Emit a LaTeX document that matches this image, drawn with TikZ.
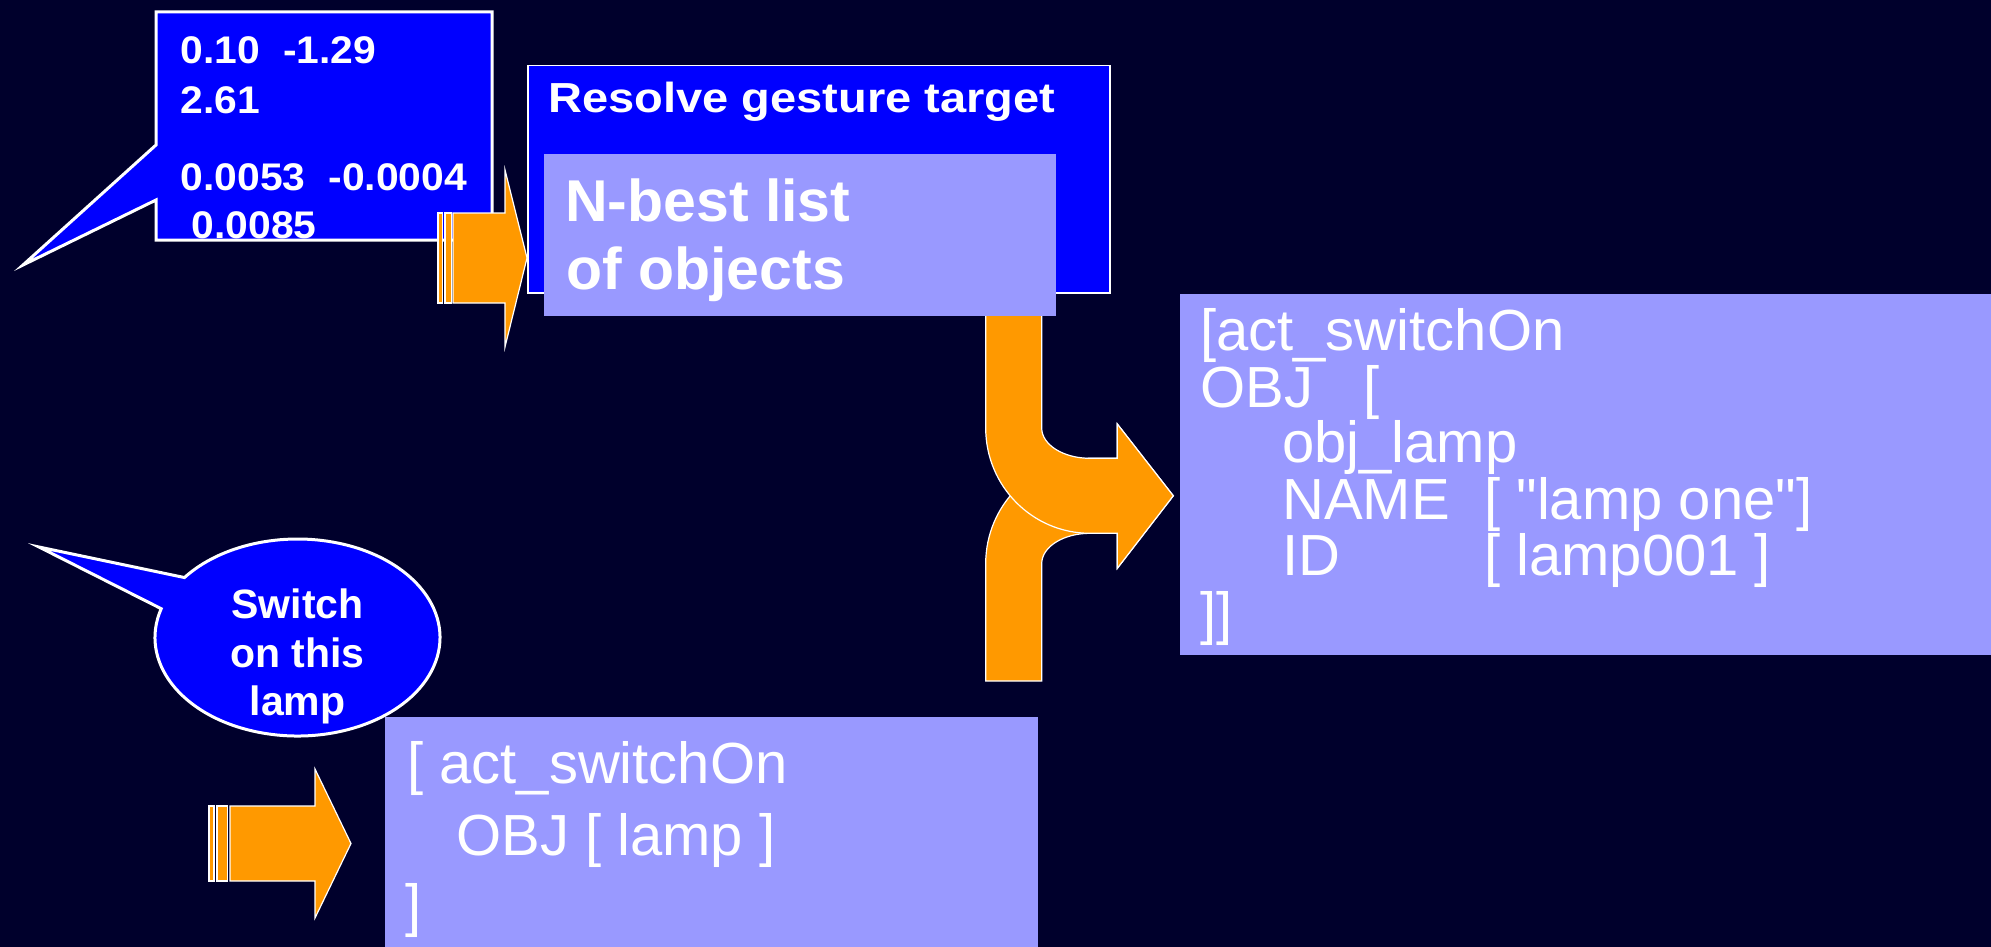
\documentclass[tikz,border=0pt]{standalone}
\usepackage{fontspec}
\setmainfont{Liberation Sans}
\newfontfamily\boxsans{Liberation Sans}
\newfontfamily\numsans[FakeStretch=1.06]{Liberation Sans}
\newfontfamily\titlesans[FakeStretch=1.12]{Liberation Sans}

\definecolor{bg}{RGB}{0,0,44}
\definecolor{slideblue}{RGB}{0,0,255}
\definecolor{lav}{RGB}{153,153,255}
\definecolor{arroworange}{RGB}{255,153,0}

\begin{document}
\begin{tikzpicture}[x=1pt,y=-1pt,
  callout/.style={fill=slideblue, draw=white, line width=3pt, line join=miter},
  bluebox/.style={fill=slideblue, draw=white, line width=1.5pt, inner sep=0pt, anchor=north west},
  lavbox/.style={fill=lav, draw=none, inner sep=0pt, anchor=north west},
  blockarrow/.style={fill=arroworange, draw=white, line width=1.2pt, line join=miter},
  txt/.style={text=white, inner sep=0pt, anchor=base west},
  numtxt/.style={txt, font=\numsans\bfseries\fontsize{38.5}{46}\selectfont},
  titletxt/.style={txt, font=\titlesans\bfseries\fontsize{42}{50}\selectfont},
  bigbold/.style={txt, font=\bfseries\fontsize{59}{68}\selectfont},
  speechtxt/.style={txt, anchor=base, font=\bfseries\fontsize{41}{48}\selectfont},
  fstxt/.style={txt, font=\boxsans\fontsize{58}{58}\selectfont}]

\useasboundingbox (0,0) rectangle (1991,947);
\fill[bg] (0,0) rectangle (1991,947);

% gesture callout with its pointer
\draw[callout] (156,12) -- (492,12) -- (492,240) -- (156,240) -- (156,200)
  -- (23,265) -- (156,145) -- cycle;
\node[numtxt] (g1) at (180.5,64) {0.10\hspace{23pt}-1.29};
\node[numtxt] (g2) at (180.5,114) {2.61};
\node[numtxt] (g3) at (180.5,190) {0.0053\hspace{23pt}-0.0004};
\node[numtxt] (g4) at (191.5,238) {0.0085};

% gesture resolution module
\node[bluebox, minimum width=582pt, minimum height=227pt] (resolve) at (527,65) {};
\node[titletxt] (resolvetitle) at (548,113) {Resolve gesture target};

% merging arrow: lower branch first, upper branch on top
\draw[blockarrow] (985.7,681) -- (1041.7,681) -- (1041.7,563.6)
  .. controls (1041.7,546.9) and (1063.3,533.3) .. (1090,533.3)
  -- (1117.3,533.3) -- (1117.3,568.3) -- (1173.3,495.8) -- (1117.3,424)
  -- (1117.3,458.3) -- (1090,458.3)
  .. controls (1032.4,458.3) and (985.7,505.4) .. (985.7,563.6) -- cycle;
\draw[blockarrow] (985.7,310) -- (1041.7,310) -- (1041.7,428)
  .. controls (1041.7,444.7) and (1063.3,458.3) .. (1090,458.3)
  -- (1117.3,458.3) -- (1117.3,424) -- (1173.3,495.8) -- (1117.3,568.3)
  -- (1117.3,533.3) -- (1090,533.3)
  .. controls (1032.4,533.3) and (985.7,486.2) .. (985.7,428) -- cycle;

% N-best list
\node[lavbox, minimum width=512pt, minimum height=162.5pt] (nbest) at (544,153.3) {};
\node[bigbold] (nb1) at (565,221.5) {N-best list};
\node[bigbold] (nb2) at (566,289) {of objects};

% striped arrow into the resolver
\draw[blockarrow] (438,213) rectangle (442.7,303);
\draw[blockarrow] (445,213) rectangle (451.5,303);
\draw[blockarrow] (453,213) -- (505,213) -- (505,170) -- (527,258) -- (505,347)
  -- (505,303) -- (453,303) -- cycle;

% fused result
\node[lavbox, minimum width=811pt, minimum height=361pt] (fused) at (1180,294) {};
\node[fstxt] (f1) at (1200,350) {[act\_switchOn};
\node[fstxt] (f2) at (1200,407) {\makebox[163pt][l]{OBJ}[};
\node[fstxt] (f3) at (1282,462) {obj\_lamp};
\node[fstxt] (f4) at (1282,519) {\makebox[202pt][l]{NAME}[ "lamp one"]};
\node[fstxt] (f5) at (1282,575) {\makebox[202pt][l]{ID}[ lamp001 ]};
\node[fstxt] (f6) at (1200,633) {]]};

% speech callout
\coordinate (ec) at (297.5,637.5);
\draw[callout] (39,547) -- ([shift={(163:142.5pt and 98.5pt)}]ec)
  arc[start angle=163, end angle=502.5, x radius=142.5pt, y radius=98.5pt] -- cycle;
\node[speechtxt] (s1) at (297.5,618) {Switch};
\node[speechtxt] (s2) at (297.5,667) {on this};
\node[speechtxt] (s3) at (297.5,715) {lamp};

% striped arrow into the speech interpretation
\draw[blockarrow] (209,806) rectangle (214,881);
\draw[blockarrow] (217,806) rectangle (227.5,881);
\draw[blockarrow] (230,806) -- (315,806) -- (315,769) -- (351,843.5) -- (315,918)
  -- (315,881) -- (230,881) -- cycle;

% speech interpretation
\node[lavbox, minimum width=653pt, minimum height=240pt] (speech) at (385,717) {};
\node[fstxt] (p1) at (407,783) {[ act\_switchOn};
\node[fstxt] (p2) at (456,855) {OBJ [ lamp ]};
\node[fstxt] (p3) at (405,925) {]};
\end{tikzpicture}
\end{document}
